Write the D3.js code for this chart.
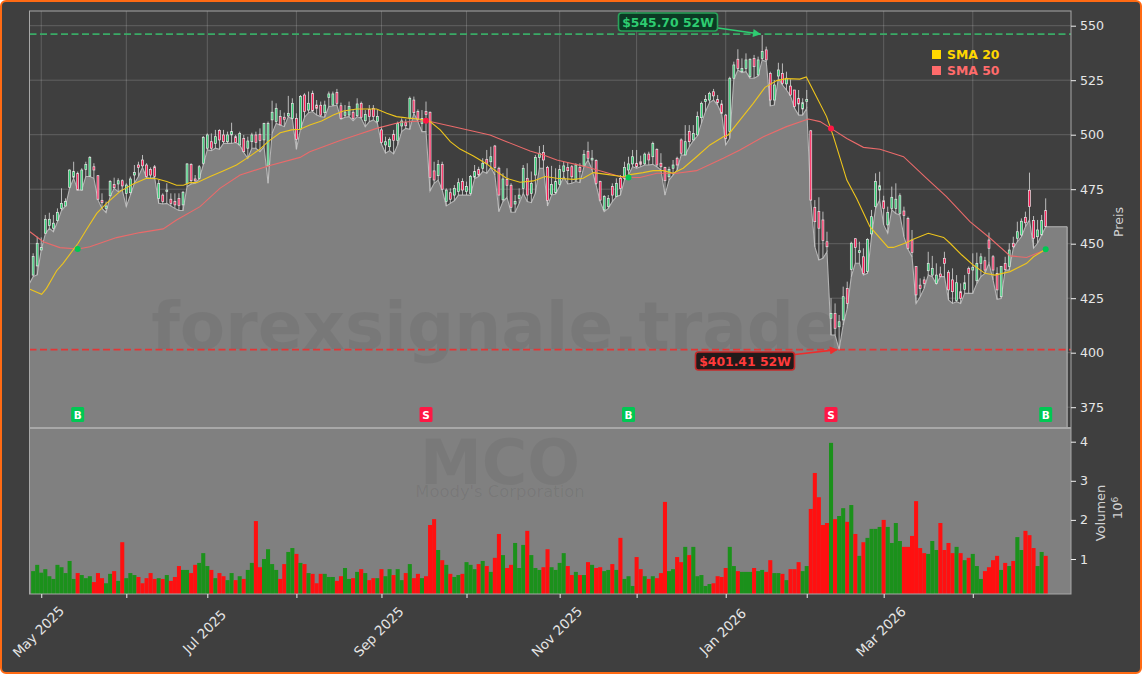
<!DOCTYPE html>
<html><head><meta charset="utf-8">
<script src="https://cdn.jsdelivr.net/npm/d3@7"></script>
<style>
html,body{margin:0;padding:0;background:#fff;}
#frame{position:absolute;left:0;top:0;width:1138px;height:670px;border:2px solid #ff6a13;border-radius:6px;background:#3f3f3f;overflow:hidden;}
svg{position:absolute;left:-2px;top:-2px;font-family:"DejaVu Sans",sans-serif;}
</style></head><body><div id="frame"></div>
<script>
const open=[435.6,439.8,447.1,454.8,458.3,457.1,460.6,466.2,467.3,475.9,
480.5,482.3,474.6,484.1,481,485.3,481.2,469.9,466.2,472,
477.2,477.4,478.9,473.1,473.4,481.5,486.1,488.4,486.1,484.1,
485.3,470.8,472.3,473.9,470.4,469.3,470.8,467.8,477.7,486.4,
479.7,480,486.9,493.8,496.8,496,501.9,499.9,496.8,499.9,
499.1,495.3,498.3,493.8,496.8,499.9,500.2,497.6,485.7,506.8,
506,508.3,508,508.6,507.5,507.5,502.5,518.2,511.3,519,
513.6,513.5,510.1,517,513.6,519.4,513.3,508.9,509,510.3,
508.7,514.4,506.4,511.6,512.1,506,502.2,495.3,494.5,500.2,
497.3,504,505.5,507.5,515.9,510.6,505.2,510.6,510.3,483.4,
481.2,486.4,469.3,473.4,472.3,473.9,478.5,473.9,473.1,480.5,
484.1,484.6,488.7,487.6,494.8,484.6,470.1,479.5,476.8,468.2,
470.8,475.4,480,473.1,481.5,489.6,491.8,485,472.7,473.4,
477.2,483.1,485,485.3,479.2,485,485.6,492.4,488.4,488.2,
478.5,465.5,467,476.2,471.6,480,480,483.8,486.6,486.9,
487.6,486.6,491.1,489.9,493.3,486.9,485,480.7,484.6,489.2,
497.6,490.7,501.4,497.6,499.9,507.8,515.2,515.9,519.7,516.2,
514.1,509,501.4,525.9,534.6,528.9,530.4,526.6,535,527.4,
535,538.9,528.1,515.9,526.9,528.1,523.3,522.3,520.5,516.7,
511.8,515.2,501.8,466.7,464.8,460.9,450.9,415.8,418,411.9,
415,429.5,438.2,452.3,445.9,444,437.2,454.5,467,474.6,
469.7,458.6,466.2,466.2,463.9,465,461.6,451.7,439.5,431,
433.4,437.6,435.6,431.8,436.1,443.3,436.9,433.4,423.9,428,
429,438.7,437.9,433,441,442.2,451.7,444,436.4,425.7,
441,439.5,450.2,452.5,454,462.1,474.5,460.6,453.2,454,465.2];
const high=[445.6,453.2,452.9,463.2,464.2,463.2,466.2,475.4,470.8,484.1,
487.6,483.1,484.6,487.6,490.2,486.9,481.5,473.1,469.3,479.2,
480.3,480,479.5,477.7,480.8,486.1,487.6,490.7,486.9,485,
486.1,479.2,473.1,477.7,473.1,473.1,473.1,474.2,486.9,486.9,
481.5,486.1,499.4,500.6,500.6,502.2,502.5,502.2,501.4,505.5,
499.9,501.4,499.9,499.1,500.9,501.4,502.9,505.5,506,515.6,
514.4,511.3,510.1,517.8,516.7,509.8,518.2,519,519.8,520.2,
515.9,515.2,515.6,519.8,519.8,521,514.7,513.6,515.2,511.3,
516.7,515.2,511.3,513.6,513.6,511.3,503.7,499.1,498.8,502.2,
506,507.5,507.1,517.5,517.5,511.6,511.3,515.2,510.6,487.6,
488.4,487.6,475.4,475.4,476.9,480,480,478.5,481.5,486.1,
485.3,489.2,493,494.5,495.3,485.3,482.3,484.6,477.7,472.3,
475.4,486.1,486.9,483.1,490.7,494.8,495.3,485.7,485.7,484.6,
486.1,487.6,487.2,486.1,486.9,486.9,493,496.8,493,488.7,
478.9,472.3,472.3,477.7,480,481.5,487.6,489.9,493,493,
490.4,491.8,492.2,496.8,493.7,491.5,485.3,485.3,488.4,489.9,
498.3,504.4,504.4,504.4,510.6,515.2,518.2,519.7,521,518.2,
515.9,509.5,526.6,533.5,539.2,535,537.3,535,536.6,535.8,
545.7,540.4,528.9,525.1,533,532.7,528.9,525.4,520.5,520.5,
516.7,520.5,502.2,470,471.3,464.7,455.5,425,422.6,417.3,
430.3,432.6,450.9,452.5,450.9,447.9,452.5,465.5,482.3,483,
472,467,476.2,477.7,473.1,467,462.4,456.3,439.5,434.1,
434.9,446.3,444.4,441,439.5,446.3,437.9,438.7,435.6,431.8,
435.6,439.5,445.6,445.9,445.6,444,455.1,444.8,439.2,439.8,
444,450.2,453.2,460.1,461.6,464.7,482.6,462.7,460.9,463.2,470.8];
const low=[434.9,435.7,447.1,454.5,457.1,455.5,460.1,465.2,467.3,475.4,
480,474.6,474.6,480.8,480.8,480,470.1,466.2,464.2,471.6,
475.4,473.9,474.6,467,472.3,477.7,480.8,485,480.3,480,
480.4,468.5,468.2,468.5,467.3,466.2,465.2,465.2,476.2,477.4,
477.7,479.7,486.1,493,492.7,493.8,493.3,496,496,496,
496.4,495.3,491.8,489.2,493.8,493.8,492.2,494.5,477.7,500.6,
505.2,504.5,503.7,508.3,507.1,493.3,502.5,508,510.1,510.6,
509,508.3,508,512.9,513.2,513.6,507.1,508,508.3,506.4,
508.3,507.5,503.7,506,506.8,505.2,495.7,491.5,492.7,491.2,
495.3,501.4,502.9,502.5,509.8,506,501.4,501.4,474.2,477.7,
479.2,474.6,467.3,468.5,469.7,472.3,472.3,472.3,472.3,479.8,
480.8,483.1,482.3,485,481.5,464.7,469.3,471.3,464.4,464.4,
468.5,473.1,469.3,468.8,473.1,484.6,484.6,467.3,472.3,472.8,
476.5,480.8,477.4,477.7,478.5,478,485.3,488.4,483.8,476.9,
469.3,464.7,466.2,469.3,471.6,472.3,479.2,481.5,485.3,484.6,
485.3,486.1,486.1,486.4,485.3,483.8,472.3,479.2,481.5,483.8,
490.7,490.7,494.5,497.3,499.4,505.2,510.6,514.7,515.9,513.6,
509.5,495.3,498.3,525.4,529.7,528.5,528.9,525.9,525.9,526.9,
534.3,533.5,513.2,513.6,525.9,522.8,520.5,517.8,512.1,509,
509,512.1,469.7,448.6,442.5,443.3,446.3,408.1,408.1,401.41,
412.7,420.3,434.9,441,441,435.6,436.4,453.2,466.2,470,
458.6,454.8,465.5,463.9,463.2,453.2,447.4,444,422.6,425.7,
429.5,435.6,434.9,431.5,434.9,434.9,424.2,422.6,423.4,422.6,
427.2,427.2,427.2,431.8,434.9,436.4,441,433.4,424.5,424.9,
437.9,437.9,447.9,450.9,453.2,457.8,460.9,447.9,450.2,454,457.8];
const close=[444.1,450.2,448.2,461.2,461.2,459.4,464.4,468.5,469.3,483.8,
483.1,474.6,483.8,486.4,489.6,483.8,470.4,468.8,467.3,478.5,
475.7,478.9,476.5,476.9,479.7,482.6,485,485.7,480.8,481.5,
480.8,477.7,469.3,474.6,468.5,467.8,467.5,473.6,486.6,478.9,
478.8,485.3,498.8,499.9,493.8,499.1,497.6,496.8,499.9,501.4,
496.4,500.6,492.2,497.1,499.9,496.5,497.3,505.2,505.2,510.3,
512.1,504.5,507.1,509.8,514.4,497.9,517.5,510.6,514.4,511,
512.1,509,513.6,518.7,518.7,514.4,507.5,510.4,512.9,507.5,
514.1,508,509.3,508.3,508.3,508.3,496.4,496.8,497.9,497.3,
505.2,506.3,504.1,516.7,510.1,507.1,507.5,509.3,480.3,479.2,
486.4,475,474.6,470.4,475.4,478,474.6,476.2,480.8,483.1,
481.5,486.9,486.9,489.9,485,472.3,479.7,476.8,466.7,469.3,
472.3,484.6,472.3,477.7,489.6,491.5,488.4,469.8,477.2,478.5,
484.1,485.7,483.5,480.7,486.1,483,491,489.2,489.2,477.7,
470,471.6,470.8,472.3,477.7,475.4,485,486.6,489.9,485.3,
486.4,491.1,488.4,496,486.1,485.3,478.9,484.1,486.1,486.1,
491.5,496.8,496.8,500.6,508.3,514.4,516.2,519,517.8,514.7,
509.8,498.3,525.9,532,530.4,530.4,534.3,534.6,531.2,534.3,
538.1,534.3,515.9,522.8,529.7,523.6,525.9,518.2,512.9,514.1,
514.7,516.2,470,460.1,457.1,451.4,448.6,418,411.2,414.2,
425.7,422.6,450.2,448.3,446.8,436.4,452,462.4,478.5,476.6,
466.1,464.4,471.3,470.4,472,462.9,447.9,446,426.5,429.5,
431.8,441,438.7,435.6,434.9,441,428.8,428,432.1,424.9,
432.1,436.4,439.2,441,444,437.9,447.9,437.9,428.8,439.5,
438.2,447.1,448.6,455.5,460.3,459.6,467,452.5,456.3,460.6,457.8];
const volume=[.69,.85,.65,.74,.56,.49,.85,.79,.64,.95,
.49,.64,.59,.51,.56,.41,.64,.51,.38,.62,
.69,.44,1.43,.51,.64,.59,.54,.38,.51,.64,
.49,.51,.49,.59,.44,.54,.82,.72,.72,.64,
.85,.90,1.15,.82,.72,.51,.64,.56,.46,.64,
.46,.56,.49,.72,.90,1.97,.79,1.0,1.25,.87,
.72,.49,.87,1.18,1.28,1.13,.90,.87,.64,.62,
.38,.62,.62,.54,.54,.44,.56,.77,.49,.51,
.67,.74,.64,.46,.51,.51,.74,.56,.74,.59,
.74,.46,.64,.87,.51,.62,.51,.56,1.87,2.02,
1.23,.97,.85,.62,.54,.59,.62,.92,.85,.74,
.87,.95,.82,.67,1.03,1.64,1.10,.77,.85,1.41,
.77,1.36,1.72,1.10,.77,.72,.79,1.25,.79,.72,
.90,1.15,.82,.59,.67,.59,.59,.92,.85,.77,
.79,.69,.72,.87,.72,1.54,.49,.56,.31,1.05,
.74,.56,.49,.56,.51,.64,2.46,.69,.74,1.05,
.92,1.31,1.10,1.31,.56,.59,.31,.36,.38,.56,
.54,.77,1.31,.82,.69,.67,.67,.67,.77,.69,
.72,.67,.97,.64,.64,.62,.46,.74,.74,.92,
.69,.82,2.28,3.2,2.58,1.87,1.92,3.97,2.02,2.1,
2.3,1.95,2.38,1.64,1.08,1.43,1.54,1.77,1.77,1.82,
2.0,1.82,1.41,1.92,1.46,1.31,1.31,1.59,2.48,1.28,
1.15,1.13,1.46,1.23,1.92,1.23,1.41,1.15,1.31,1.15,
.97,1.03,1.13,.82,.49,.69,.79,.97,1.08,.72,
.90,.82,.95,1.56,1.23,1.72,1.61,1.28,.82,1.18,1.08];
const sma20Index=[-.8,2.1,3.3,5.8,7.4,11.1,13.6,15.7,18.1,21.4,24.7,28,30.5,33,35.4,37.1,38.7,40.4,43.7,46.9,50.2,53.1,56,58,61,63.8,65.9,68.3,71.2,74.1,76.6,79.9,84.8,87.3,89.7,92.2,95.5,98,100.5,103,105.4,108.7,112,114.4,116.9,120.2,123.5,126.4,129.3,133.4,135.8,138.3,141.6,145.7,147.4,150.6,153.1,155.6,158,160.5,163.8,167.1,170.4,171.6,174.5,177.8,180.7,183.6,186,189.3,190.9,193.4,195.9,197.6,200.9,203.3,206.6,211.1,212.4,215.7,217.3,221,224.8,226.4,229.3,232.1,235,237.5,241.2,245.3,247,249.4];
const sma20=[429.1,426.8,429.5,437.6,441,450.2,457.8,463.9,468.5,473.9,477.4,480,479.8,478.5,476.8,476.8,478,478,480.8,483.4,486.1,489.6,493.4,496.8,500.9,502.2,502.5,504.5,506.3,509,510.9,511.8,511.8,509.8,508.3,507.7,507.1,506,502.2,496.8,493.4,490.2,486.6,483.1,480,478.2,478.8,480.8,480,479.5,480,482.6,481.8,480.7,481.7,482.6,483.5,483.5,482.3,484.6,489.9,495.3,499.1,499.9,506.7,514.4,521.7,524.8,525.7,525.5,526.5,517.4,508.3,499.1,479.2,470.8,457.8,448.3,448.3,450.5,452,454.8,452.9,450.2,444.8,440.2,436.4,435.6,437.2,441,444,446.8];
const sma50Index=[-.8,2.5,6.6,11.1,14,20.6,26.4,32.1,35.4,41.2,46.1,51.1,58,65.9,68.3,75.8,79.9,84.8,90.6,97.2,103,112.8,116.9,122.7,126,129.3,135.8,140.8,145.7,149.8,154,158.9,163.8,170.4,174.5,180.3,186,191.4,194.3,197,200.9,205,209.1,214.9,220.6,225.5,231.3,236.3,241.2,245.3,249.4];
const sma50=[455.5,450.9,448.2,447.6,448.6,452.8,455.1,456.8,460.9,467,475.4,481.5,485.6,489.6,492.2,497.3,499.9,502.9,505.7,506.4,504,499.9,496.8,492.5,490.7,488.4,485.6,483,480.4,480.4,482.3,482.3,483.5,489.2,493,499.1,503.7,507.2,506,502.9,498.3,494.2,493.3,489.9,480,471.6,460.1,452.5,444.4,443.7,446.8];
const signalIndex=[11,97,147,197,250];
const signalPrice=[447.6,506.4,480.4,502.9,447.4];
const signalType=["B","S","B","S","B"];
const priceTicks=[375,400,425,450,475,500,525,550];
const volumeTicks=[1,2,3,4];
const monthIndex=[2,23,43,65,86,107,130,149,171,191,210,232];
const monthLabels=["May 2025","","Jul 2025","","Sep 2025","","Nov 2025","","Jan 2026","","Mar 2026",""];
const high52=545.70, low52=401.41;
const high52Index=180, low52Index=199;
const areaPadLeft=-.9, areaPadRight=255.3, areaStartValue=431.8;

const W=1142,H=674;
const L=29.5,R=1071,T=11,M=428,B=594;
const x=d3.scaleLinear().domain([-.9,256.25]).range([L,R]);
const y=d3.scaleLinear().domain([400,550]).range([352.7,25.7]);
const yv=d3.scaleLinear().domain([1,4]).range([559,441.7]);
const idx=d3.range(close.length);
const svg=d3.select("#frame").append("svg").attr("width",W).attr("height",H);
const defs=svg.append("defs");

svg.append("rect").attr("x",L).attr("y",M).attr("width",R-L).attr("height",B-M).attr("fill","#808080");

const grid=svg.append("g").attr("stroke","#ffffff").attr("stroke-opacity",.2).attr("stroke-width",.9);
grid.selectAll(".gx").data(monthIndex).join("line").attr("class","gx").attr("x1",d=>x(d)).attr("x2",d=>x(d)).attr("y1",T).attr("y2",M);
grid.selectAll(".gy").data(priceTicks).join("line").attr("class","gy").attr("x1",L).attr("x2",R).attr("y1",d=>y(d)).attr("y2",d=>y(d));

const areaData=[{i:areaPadLeft,v:areaStartValue}].concat(idx.map(i=>({i,v:low[i]})),[{i:areaPadRight,v:low[low.length-1]}]);
svg.append("path").datum(areaData).attr("fill","#808080")
 .attr("d",d3.area().x(d=>x(d.i)).y0(M).y1(d=>y(d.v)));
svg.append("path").datum(areaData).attr("fill","none").attr("stroke","#b4b4b4").attr("stroke-width",1.1)
 .attr("d",d3.line().x(d=>x(d.i)).y(d=>y(d.v)));
svg.append("line").attr("x1",x(areaPadRight)).attr("x2",x(areaPadRight)).attr("y1",y(low[low.length-1])).attr("y2",M).attr("stroke","#b4b4b4").attr("stroke-width",1.1);

const wm=svg.append("g").attr("text-anchor","middle").attr("fill","#000").attr("font-weight","bold");
wm.append("text").attr("x",495).attr("y",349).attr("font-size",66).attr("fill-opacity",.06).text("forexsignale.trade");
wm.append("text").attr("x",500).attr("y",484).attr("font-size",62).attr("fill-opacity",.055).text("MCO");
wm.append("text").attr("x",500).attr("y",497).attr("font-size",16.4).attr("font-weight","normal").attr("fill-opacity",.07).text("Moody's Corporation");

svg.append("line").attr("x1",L).attr("x2",R).attr("y1",y(high52)-1).attr("y2",y(high52)-1).attr("stroke","#3aaa66").attr("stroke-width",1.8).attr("stroke-dasharray","7,3.5");
svg.append("line").attr("x1",L).attr("x2",R).attr("y1",y(low52)).attr("y2",y(low52)).attr("stroke","#e23636").attr("stroke-width",1.8).attr("stroke-dasharray","7,3.5");

const cg=svg.append("g");
cg.selectAll(".w").data(idx).join("line").attr("class","w")
 .attr("x1",i=>x(i)).attr("x2",i=>x(i)).attr("y1",i=>y(high[i])).attr("y2",i=>y(low[i]))
 .attr("stroke","#c8c8c8").attr("stroke-width",.9);
cg.selectAll(".b").data(idx).join("rect").attr("class","b")
 .attr("x",i=>x(i)-.95).attr("width",1.9)
 .attr("y",i=>y(Math.max(open[i],close[i])))
 .attr("height",i=>Math.max(.8,Math.abs(y(open[i])-y(close[i]))))
 .attr("fill",i=>close[i]>=open[i]?"#2ecc71":"#ff1a55")
 .attr("stroke","#e6e6e6").attr("stroke-width",.7);

const sl=d3.line().x(d=>x(d[0])).y(d=>y(d[1]));
svg.append("path").attr("d",sl(d3.zip(sma50Index,sma50))).attr("fill","none").attr("stroke","#ea6a6a").attr("stroke-width",1.1);
svg.append("path").attr("d",sl(d3.zip(sma20Index,sma20))).attr("fill","none").attr("stroke","#eec51c").attr("stroke-width",1.1);

const sigColor=t=>t==="B"?"#00c853":"#ff1744";
svg.selectAll(".dot").data(signalIndex).join("circle").attr("class","dot")
 .attr("cx",d=>x(d)).attr("cy",(d,k)=>y(signalPrice[k])).attr("r",3).attr("fill",(d,k)=>sigColor(signalType[k]));
svg.selectAll(".sb").data(signalIndex).join("rect").attr("class","sb")
 .attr("x",d=>x(d)-6.5).attr("y",407).attr("width",13).attr("height",15).attr("rx",1.5)
 .attr("fill",(d,k)=>sigColor(signalType[k]));
svg.selectAll(".st").data(signalIndex).join("text").attr("class","st")
 .attr("x",d=>x(d)).attr("y",418.5).attr("text-anchor","middle").attr("font-size",10.5).attr("font-weight","bold")
 .attr("fill","#fff").text((d,k)=>signalType[k]);

svg.append("g").selectAll("rect").data(idx).join("rect")
 .attr("x",i=>x(i)-2.02).attr("width",4.05)
 .attr("y",i=>yv(volume[i])).attr("height",i=>B-yv(volume[i]))
 .attr("fill",i=>close[i]>=open[i]?"#1b911b":"#ff1010");

[["ah","#2ecc71"],["al","#ee2c2c"]].forEach(([id,c])=>{
 defs.append("marker").attr("id",id).attr("viewBox","0 0 10 10").attr("refX",9).attr("refY",5).attr("markerWidth",9).attr("markerHeight",8).attr("markerUnits","userSpaceOnUse").attr("orient","auto")
  .append("path").attr("d","M0,0L10,5L0,10z").attr("fill",c);
});
function badge(cx,cy,txt,fill,stroke,color){
 svg.append("rect").attr("x",cx-49.5).attr("y",cy-9).attr("width",99).attr("height",18).attr("rx",3).attr("fill",fill).attr("stroke",stroke).attr("stroke-width",1.6);
 svg.append("text").attr("x",cx).attr("y",cy+4.6).attr("text-anchor","middle").attr("font-size",12.4).attr("font-weight","bold").attr("fill",color).text(txt);
}
const badgeHigh=[668,22], badgeLow=[745,361];
svg.append("line").attr("x1",badgeHigh[0]+50).attr("y1",28).attr("x2",x(high52Index)-2).attr("y2",y(high52)-1).attr("stroke","#2ecc71").attr("stroke-width",1.6).attr("marker-end","url(#ah)");
svg.append("line").attr("x1",badgeLow[0]+50).attr("y1",354.5).attr("x2",x(low52Index)-2).attr("y2",y(low52)).attr("stroke","#ee2c2c").attr("stroke-width",1.6).attr("marker-end","url(#al)");
badge(badgeHigh[0],badgeHigh[1],"$"+high52.toFixed(2)+" 52W","#0c3a24","#28a35a","#2ecc71");
badge(badgeLow[0],badgeLow[1],"$"+low52.toFixed(2)+" 52W","#221a1a","#c62a2a","#ff3a3a");

svg.append("rect").attr("x",L).attr("y",T).attr("width",R-L).attr("height",B-T).attr("fill","none").attr("stroke","#a8a8a8").attr("stroke-width",1);
svg.append("line").attr("x1",L).attr("x2",R).attr("y1",M).attr("y2",M).attr("stroke","#a8a8a8").attr("stroke-width",2);

function styleAxis(g){
 g.select(".domain").remove();
 g.selectAll("line").attr("stroke","#f0f0f0");
 g.selectAll("text").attr("fill","#e6e6e6").attr("font-family",'"DejaVu Sans",sans-serif');
}
svg.append("g").attr("transform",`translate(${R},0)`)
 .call(d3.axisRight(y).tickValues(priceTicks).tickSize(5).tickPadding(4).tickFormat(d3.format("d")))
 .call(styleAxis).attr("font-size",12.6);
svg.append("g").attr("transform",`translate(${R},0)`)
 .call(d3.axisRight(yv).tickValues(volumeTicks).tickSize(5).tickPadding(4).tickFormat(d3.format("d")))
 .call(styleAxis).attr("font-size",12.6);
svg.append("g").attr("transform",`translate(0,${B})`)
 .call(d3.axisBottom(x).tickValues(monthIndex).tickSize(4).tickFormat((d,k)=>monthLabels[k]))
 .call(styleAxis).attr("font-size",13.4)
 .selectAll("text").attr("text-anchor","middle").attr("dy",0).attr("y",0)
 .attr("transform","translate(0,41) rotate(-45)");

const tc="#d2d2d2";
svg.append("text").attr("transform","translate(1123,222) rotate(-90)").attr("text-anchor","middle").attr("font-size",12.6).attr("fill",tc).text("Preis");
svg.append("text").attr("transform","translate(1105,513) rotate(-90)").attr("text-anchor","middle").attr("font-size",13).attr("fill",tc).text("Volumen");
const pw=svg.append("text").attr("transform","translate(1122,508) rotate(-90)").attr("text-anchor","middle").attr("font-size",13).attr("fill",tc);
pw.append("tspan").text("10");
pw.append("tspan").attr("dy",-4).attr("font-size",9).text("6");

const legend=[["SMA 20","#ffd700",54.5],["SMA 50","#ff6b6b",70.5]];
legend.forEach(([t,c,ly])=>{
 svg.append("rect").attr("x",932).attr("y",ly-4.5).attr("width",9).attr("height",9).attr("fill",c);
 svg.append("text").attr("x",947).attr("y",ly+4).attr("font-size",12.4).attr("font-weight","bold").attr("fill",c).text(t);
});
</script></body></html>
